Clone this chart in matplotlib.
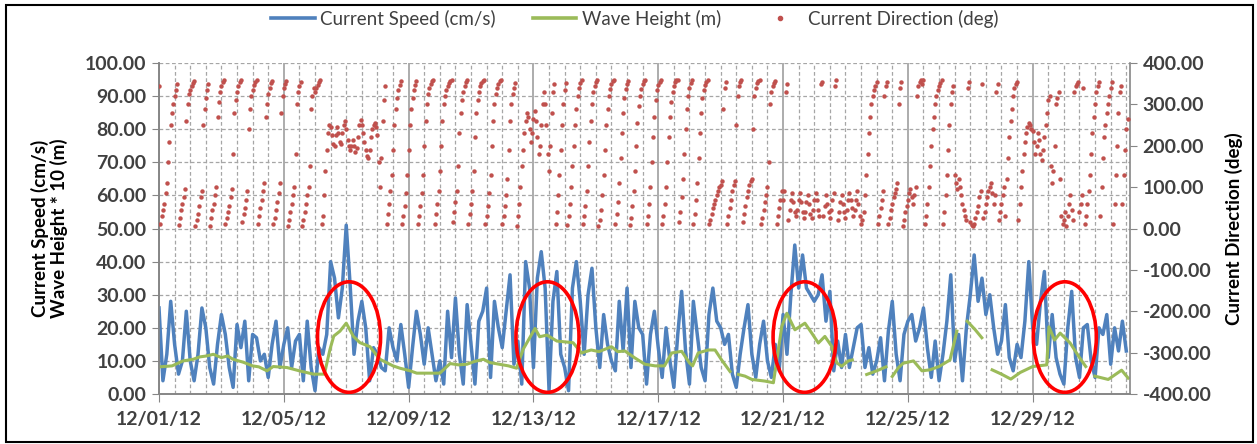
import matplotlib
matplotlib.use("Agg")
import matplotlib.pyplot as plt
import matplotlib.dates as mdates
import numpy as np
import pandas as pd
from matplotlib.lines import Line2D
from matplotlib.patches import Ellipse, Rectangle
from matplotlib.ticker import FixedLocator, FormatStrFormatter, MultipleLocator

START = "2012-12-01"
nan = np.nan

# current speed (cm/s), one value every 3 hours from 12/01/12 00:00
speed = [
    26, 4, 12, 28, 15, 6, 10, 25,
    10, 4, 12, 26, 20, 8, 3, 15,
    24, 18, 8, 2, 21, 14, 22, 4,
    18, 17, 10, 12, 5, 15, 22, 8,
    15, 20, 8, 16, 18, 4, 22, 8,
    1, 14, 12, 18, 40, 35, 23, 32,
    51, 33, 12, 22, 28, 20, 4, 14,
    12, 8, 7, 20, 14, 10, 21, 12,
    2, 14, 25, 18, 9, 20, 12, 4,
    10, 3, 25, 11, 29, 12, 3, 27,
    15, 3, 22, 25, 32, 5, 28, 20,
    14, 25, 36, 9, 16, 3, 40, 32,
    8, 35, 43, 32, 1, 28, 37, 12,
    8, 1, 32, 40, 28, 12, 30, 38,
    20, 8, 24, 15, 10, 7, 28, 13,
    32, 8, 28, 20, 18, 3, 18, 25,
    14, 5, 20, 10, 2, 18, 31, 13,
    3, 28, 18, 8, 4, 24, 32, 22,
    20, 15, 18, 6, 2, 12, 20, 27,
    12, 5, 15, 22, 10, 5, 15, 7,
    24, 12, 30, 45, 32, 42, 32, 30,
    28, 30, 36, 22, 31, 7, 16, 8,
    18, 8, 14, 20, 21, 8, 14, 6,
    10, 17, 4, 19, 28, 12, 4, 18,
    22, 24, 16, 20, 26, 14, 5, 16,
    4, 12, 22, 36, 10, 18, 4, 20,
    30, 42, 28, 35, 24, 30, 20, 12,
    16, 27, 11, 7, 15, 11, 22, 40,
    20, 15, 28, 37, 11, 24, 11, 6,
    3, 20, 31, 11, 5, 20, 21, 10,
    5, 20, 18, 24, 9, 20, 13, 22,
    13,
]

# wave height * 10 (m), at days after 12/01/12 (nan = no data)
wave_days = [
    0, 0.42, 0.77, 1.1, 1.3, 1.53, 1.74, 2.0, 2.2, 2.37, 2.7, 3.0, 3.2, 3.46, 3.66,
    4.1, 4.5, 4.95, 5.3, 5.48, 5.6, 5.8, 6.0, 6.23, 6.44, 6.76, 7.08, 7.5, 7.72,
    8.05, 8.26, 9.0, 9.33, 9.6, 9.87, 10.1, 10.4, 10.6, 10.9, 11.2, 11.46, 11.67,
    12.05, 12.2, 12.43, 12.75, 13.27, 13.54, 13.85, 14.1, 14.5, 14.7, 14.93, 15.25,
    15.57, 15.9, 16.2, 16.43, 16.75, 17.0, 17.1, 17.28, 17.6, 17.82, 18.03, 18.3,
    18.4, 18.57, 18.78, 19.0, 19.42, 19.69, 19.8, 19.96, 20.12, 20.38, 20.7, 20.92,
    21.13, 21.34, 21.56, 21.72, 21.88, 22.09, 22.22, 22.4, 22.68, 23.0, 23.3, 23.4,
    23.5, 23.7, 23.85, 24.18, 24.45, 24.7, 25.0, 25.35, 25.57, 25.7, 25.9, 26.15,
    26.37, 26.5, 26.7, 27.0, 27.3, 27.6, 28.0, 28.45, 28.52, 28.7, 28.88, 29.2,
    29.5, 29.7, 29.8, 29.99, 30.42, 30.85, 31.06,
]
wave_x10 = [
    8.2, 8.5, 10, 10.5, 11.2, 11.5, 12, 11, 11.5, 10.5, 9.6, 8.5, 8.2, 7, 8.3,
    8, 7, 6, 6, 13.5, 17.5, 19, 21.4, 17.4, 15.5, 14.3, 10.5, 8.5, 7.8,
    7, 6.3, 6.3, 9.2, 8.8, 9, 9.8, 10.5, 9.5, 9, 8.5, 7.8, 13.5,
    19.8, 17.3, 17.8, 16, 15.5, 12.4, 13.3, 12.8, 14.3, 12.8, 13, 10.9,
    9, 8.5, 8.5, 12.4, 12.9, 9.4, 8.5, 12.4, 13.3, 13.3, 10.3, 6.8,
    nan, 5.9, 5.4, 4.4, 3.9, 3.4, 10.3, 20.4, 24.4, 19.4, 21.4, 18.4,
    15.4, 17.4, 14.4, 9.4, 8.4, 10, 10.3, nan, 5.9, 7, 8.2, nan,
    5.3, 8, 9.3, 10, 7, 7.3, 8.3, 10.3, 19, nan, 22, 19.5,
    17, nan, 7.3, 6, 4.5, 6.5, 8.3, 8.8, 20.3, 16.3, 18.4, 15.4,
    11, 8.3, nan, 5.4, 4.4, 7.2, 4.8,
]

# current direction (deg), hourly from 12/01/12 00:00
direction = [
    345, 10, 30, 45, 60, 85, 110, 160, 210, 250, 280, 300, 320, 335, 350, 8, 25, 45, 60, 75, 95, 260, 300, 325,
    335, 345, 352, 356, 5, 20, 35, 55, 75, 90, 250, 290, 315, 335, 350, 5, 25, 45, 60, 80, 100, 270, 305, 330,
    345, 355, 358, 10, 25, 40, 55, 75, 95, 180, 280, 310, 330, 345, 355, 358, 15, 35, 50, 70, 90, 240, 290, 320,
    335, 348, 355, 358, 10, 30, 50, 70, 90, 110, 270, 300, 325, 340, 352, 357, 10, 25, 45, 65, 85, 110, 280, 320,
    340, 350, 356, 5, 20, 40, 60, 80, 100, 180, 300, 330, 345, 355, 5, 20, 40, 60, 80, 100, 150, 290, 320, 340,
    330, 340, 348, 353, 358, 10, 30, 80, 140, 190, 230, 250, 245, 225, 205, 200, 225, 245, 230, 210, 205, 230, 250, 260,
    240, 215, 200, 190, 200, 215, 200, 185, 195, 220, 250, 262, 250, 230, 210, 190, 175, 170, 190, 220, 240, 250, 255, 245,
    225, 160, 100, 170, 260, 310, 345, 10, 35, 60, 90, 130, 190, 250, 290, 315, 335, 348, 356, 10, 30, 55, 85, 130,
    190, 250, 290, 315, 335, 348, 356, 10, 30, 55, 85, 130, 200, 260, 300, 325, 340, 350, 356, 358, 10, 35, 60, 90,
    140, 200, 260, 300, 320, 335, 345, 352, 357, 359, 15, 40, 65, 90, 150, 230, 280, 310, 330, 345, 353, 358, 10, 35,
    60, 90, 140, 220, 280, 310, 330, 345, 352, 356, 359, 10, 30, 55, 85, 130, 200, 260, 300, 325, 340, 350, 356, 359,
    10, 30, 55, 80, 120, 190, 260, 300, 325, 340, 352, 5, 30, 60, 100, 150, 190, 230, 260, 280, 270, 240, 210, 230,
    265, 285, 260, 220, 180, 200, 250, 300, 330, 300, 250, 180, 140, 200, 280, 330, 350, 10, 40, 80, 130, 190, 250, 300,
    335, 352, 8, 30, 60, 100, 150, 200, 250, 290, 320, 340, 352, 358, 10, 30, 55, 90, 150, 210, 260, 300, 330, 345,
    355, 358, 5, 20, 45, 80, 130, 190, 250, 290, 320, 338, 350, 356, 359, 12, 35, 65, 110, 170, 230, 280, 315, 338,
    350, 357, 8, 25, 55, 90, 140, 200, 255, 295, 320, 338, 350, 356, 359, 10, 30, 60, 100, 160, 220, 270, 310, 335,
    348, 355, 359, 10, 30, 60, 100, 160, 220, 270, 305, 330, 345, 354, 358, 359, 15, 40, 75, 120, 180, 240, 290, 320,
    340, 352, 358, 10, 35, 70, 110, 170, 230, 280, 315, 335, 348, 355, 359, 10, 20, 35, 50, 60, 70, 80, 90, 100,
    105, 115, 290, 340, 355, 10, 30, 50, 70, 90, 105, 115, 250, 320, 345, 355, 358, 15, 35, 55, 75, 90, 105, 115,
    120, 240, 320, 340, 352, 357, 359, 10, 25, 45, 65, 80, 100, 160, 300, 330, 345, 352, 357, 10, 30, 50, 70, 90,
    70, 90, 330, 350, 20, 45, 70, 85, 65, 40, 30, 45, 70, 85, 65, 40, 25, 40, 65, 80, 60, 35, 25, 45,
    70, 85, 70, 45, 30, 350, 355, 30, 55, 80, 60, 40, 25, 45, 70, 85, 345, 358, 20, 40, 65, 80, 60, 40,
    25, 45, 70, 85, 70, 50, 30, 45, 70, 90, 60, 30, 10, 20, 40, 80, 130, 180, 230, 270, 300, 320, 335, 345,
    355, 10, 30, 50, 70, 90, 320, 345, 355, 10, 25, 45, 60, 75, 85, 95, 110, 300, 340, 355, 5, 20, 40, 55,
    70, 85, 95, 75, 60, 80, 100, 320, 345, 355, 358, 350, 359, 10, 30, 60, 100, 150, 200, 240, 270, 300, 320, 335,
    345, 352, 358, 10, 40, 80, 130, 190, 250, 300, 330, 345, 130, 110, 95, 120, 100, 80, 60, 45, 30, 20, 340, 355,
    15, 8, 5, 12, 25, 40, 55, 75, 90, 350, 25, 40, 60, 75, 90, 100, 110, 85, 60, 80, 330, 350, 20, 40,
    60, 80, 100, 30, 120, 170, 220, 260, 290, 320, 340, 350, 355, 20, 60, 100, 140, 180, 210, 230, 245, 255, 250, 240,
    235, 210, 180, 200, 230, 215, 180, 165, 190, 220, 250, 280, 310, 320, 150, 110, 140, 200, 300, 315, 330, 120, 30, 10,
    20, 40, 5, 30, 60, 80, 45, 20, 330, 345, 350, 355, 40, 60, 80, 340, 10, 30, 60, 90, 130, 180, 230, 270,
    300, 330, 345, 355, 30, 100, 170, 220, 250, 280, 300, 320, 340, 355, 10, 60, 130, 200, 280, 330, 345, 60, 130, 190,
    240, 265,
]

# days after 12/01/12 where the high-wave events are circled
events = [6.09, 12.45, 20.69, 29.03]

BLUE = "#4F81BD"
GREEN = "#9BBB59"
RED = "#C0504D"
GRID = "#A6A6A6"
AXIS = "#868686"
TEXT = "#404040"

plt.rcParams["font.family"] = ["Lato", "DejaVu Sans"]

start = pd.Timestamp(START)
t_speed = pd.date_range(START, periods=len(speed), freq="3h")
t_dir = pd.date_range(START, periods=len(direction), freq="h")
t_wave = start + pd.to_timedelta(wave_days, unit="D")
t_ticks = pd.date_range(START, periods=8, freq="4D")

fig = plt.figure(figsize=(12.57, 4.44), dpi=100)
ax = fig.add_axes([0.1265, 0.1126, 0.7725, 0.7455])
ax2 = ax.twinx()

ax.plot(t_speed, speed, color=BLUE, lw=2.5, zorder=3)
ax.plot(t_wave, wave_x10, color=GREEN, lw=2.2, zorder=4)
ax2.plot(t_dir, direction, linestyle="none", marker="o", ms=3.2,
         mfc=RED, mec=RED, mew=0, zorder=3)

x0 = mdates.date2num(start)
ax.set_xlim(x0, x0 + 31.12)
ax.set_ylim(0, 100)
ax2.set_ylim(-400, 400)

ax.xaxis.set_major_locator(FixedLocator(mdates.date2num(t_ticks)))
ax.xaxis.set_minor_locator(MultipleLocator(0.5))
ax.xaxis.set_major_formatter(mdates.DateFormatter("%m/%d/%y"))
ax.yaxis.set_major_locator(MultipleLocator(10))
ax.yaxis.set_major_formatter(FormatStrFormatter("%.2f"))
ax2.yaxis.set_major_locator(MultipleLocator(100))
ax2.yaxis.set_major_formatter(FormatStrFormatter("%.2f"))

ax.grid(which="major", axis="y", color=GRID, lw=0.9, linestyle=(0, (3, 2)))
ax.grid(which="minor", axis="x", color=GRID, lw=0.9, linestyle=(0, (3, 2)))
ax.grid(which="major", axis="x", color=GRID, lw=1.3, linestyle="-")
ax.set_axisbelow(True)

for a in (ax, ax2):
    a.spines["top"].set_visible(False)
    for s in ("left", "right", "bottom"):
        a.spines[s].set_color(AXIS)
        a.spines[s].set_linewidth(1.2)
ax.spines["right"].set_visible(False)

ax.tick_params(axis="x", which="major", length=6, color=AXIS, pad=6,
               labelsize=14, labelcolor=TEXT)
ax.tick_params(axis="x", which="minor", length=0)
ax.tick_params(axis="y", length=5, color=AXIS, pad=4, labelsize=14, labelcolor=TEXT)
ax2.tick_params(axis="y", length=5, color=AXIS, pad=4, labelsize=14, labelcolor=TEXT)
for lab in ax.get_xticklabels() + ax.get_yticklabels() + ax2.get_yticklabels():
    lab.set_fontweight("bold")

for d in events:
    ax2.add_patch(Ellipse((x0 + d, 17.2), 2.02, 33.4, transform=ax.transData,
                          fill=False, edgecolor="#FF0000", lw=2.6, zorder=10))

fig.text(0.0394, 0.486, "Current Speed (cm/s)\nWave Height * 10 (m)", rotation=90,
         ha="center", va="center", fontsize=13.5, fontweight="bold",
         color="black", linespacing=1.1)
fig.text(0.9817, 0.484, "Current Direction (deg)", rotation=90, ha="center",
         va="center", fontsize=13.5, fontweight="bold", color="black")

handles = [
    Line2D([], [], color=BLUE, lw=2.6),
    Line2D([], [], color=GREEN, lw=2.6),
    Line2D([], [], linestyle="none", marker="o", ms=3, mfc=RED, mec=RED),
]
labels = ["Current Speed (cm/s)", "Wave Height (m)", "Current Direction (deg)"]
fig.legend(handles, labels, loc="center", bbox_to_anchor=(0.505, 0.958), ncol=3,
           frameon=False, fontsize=13.5, handlelength=2.3, handletextpad=0.3,
           columnspacing=2.0, labelcolor=TEXT)

fig.patches.append(Rectangle((0.0048, 0.0045), 0.992, 0.984, transform=fig.transFigure,
                             fill=False, edgecolor="black", lw=1.5))

fig.savefig("out.png", dpi=100)
